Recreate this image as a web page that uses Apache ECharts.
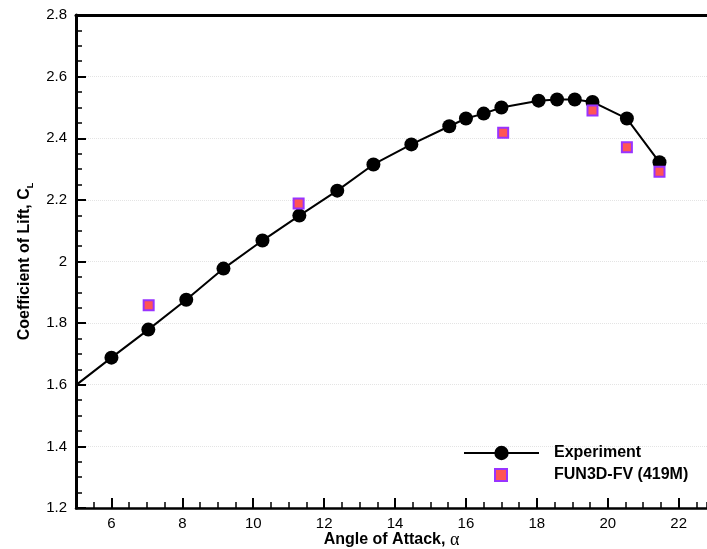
<!DOCTYPE html>
<html>
<head>
    <meta charset="utf-8">
    <title>Lift coefficient</title>
    <script src="https://cdn.jsdelivr.net/npm/echarts@6/dist/echarts.min.js"></script>
</head>
<body style="margin:0">
    <div id="main" style="width: 707px;height:549px;"></div>
    <script type="text/javascript">
        // angle of attack / CL
        var expAlpha = [4.9, 6.0, 7.04, 8.11, 9.16, 10.26, 11.3, 12.37, 13.39, 14.46, 15.53, 16.0, 16.5, 17.0, 18.05, 18.57, 19.07, 19.57, 20.54, 21.46];
        var expCL    = [1.59, 1.688, 1.779, 1.876, 1.977, 2.068, 2.149, 2.23, 2.315, 2.38, 2.439, 2.464, 2.48, 2.50, 2.522, 2.526, 2.526, 2.518, 2.464, 2.322];
        var cfdAlpha = [7.05, 11.28, 17.05, 19.57, 20.54, 21.46];
        var cfdCL    = [1.858, 2.188, 2.418, 2.49, 2.371, 2.291];
        var xTicks   = [6, 8, 10, 12, 14, 16, 18, 20, 22];

        var font = 'Liberation Sans';

        function pairs(xs, ys) {
            var out = [];
            for (var i = 0; i < xs.length; i++) out.push([xs[i], ys[i]]);
            return out;
        }

        var myChart = echarts.init(document.getElementById('main'));

        var option = {
            animation: false,
            grid: { left: 76, right: 0, top: 15, bottom: 41, outerBoundsMode: 'none' },
            legend: [
                {
                    data: ['Experiment'],
                    left: 463, top: 445, padding: 0,
                    itemWidth: 75, itemHeight: 18,
                    textStyle: { fontFamily: font, fontSize: 16, fontWeight: 'bold', color: '#000', padding: [0, 0, 0, 10] }
                },
                {
                    data: ['FUN3D-FV (419M)'],
                    left: 494, top: 467, padding: 0,
                    itemWidth: 12, itemHeight: 12,
                    textStyle: { fontFamily: font, fontSize: 16, fontWeight: 'bold', color: '#000', padding: [0, 0, 0, 42] }
                }
            ],
            xAxis: [
                {
                    type: 'value', min: 5, max: 22.8,
                    name: '{a|Angle of Attack, }{g|α}',
                    nameLocation: 'middle', nameGap: 23, nameMoveOverlap: false,
                    nameTextStyle: {
                        rich: {
                            a: { fontFamily: font, fontSize: 16, fontWeight: 'bold', color: '#000' },
                            g: { fontFamily: 'Liberation Serif', fontSize: 18, color: '#000' }
                        }
                    },
                    axisLine: { show: true, lineStyle: { color: '#000', width: 2.5 } },
                    axisTick: { inside: true, length: 10, customValues: xTicks, lineStyle: { color: '#000', width: 2 } },
                    axisLabel: { margin: 8, fontFamily: font, fontSize: 15, color: '#000', customValues: xTicks },
                    splitLine: { show: false }
                },
                {
                    type: 'value', min: 5, max: 22.8, interval: 0.5,
                    position: 'bottom',
                    axisLine: { show: false },
                    axisTick: { inside: true, length: 6, lineStyle: { color: '#000', width: 1.5 } },
                    axisLabel: { show: false },
                    splitLine: { show: false }
                },
                {
                    type: 'value', min: 5, max: 22.8,
                    position: 'top',
                    axisLine: { show: true, lineStyle: { color: '#000', width: 3 } },
                    axisTick: { show: false },
                    axisLabel: { show: false },
                    splitLine: { show: false }
                }
            ],
            yAxis: {
                type: 'value', min: 1.2, max: 2.8, interval: 0.2,
                name: '{a|Coefficient of Lift, C}{s|L}',
                nameLocation: 'middle', nameGap: 41,
                nameTextStyle: {
                    rich: {
                        a: { fontFamily: font, fontSize: 16, fontWeight: 'bold', color: '#000', lineHeight: 20 },
                        s: { fontFamily: font, fontSize: 9, fontWeight: 'bold', color: '#000', lineHeight: 9, verticalAlign: 'bottom' }
                    }
                },
                axisLine: { show: true, lineStyle: { color: '#000', width: 3 } },
                axisTick: { inside: true, length: 10, lineStyle: { color: '#000', width: 2 } },
                minorTick: { show: true, splitNumber: 4, length: 6, lineStyle: { color: '#000', width: 1.5 } },
                axisLabel: { margin: 9, fontFamily: font, fontSize: 15, color: '#000' },
                splitLine: { show: true, lineStyle: { color: '#e4e4e4', type: 'dotted', width: 1 } }
            },
            series: [
                {
                    name: 'Experiment',
                    type: 'line',
                    data: pairs(expAlpha, expCL),
                    clip: true,
                    symbol: 'circle', symbolSize: 14,
                    lineStyle: { color: '#000', width: 2 },
                    itemStyle: { color: '#000' },
                    z: 2
                },
                {
                    name: 'FUN3D-FV (419M)',
                    type: 'scatter',
                    data: pairs(cfdAlpha, cfdCL),
                    symbol: 'rect', symbolSize: 10,
                    itemStyle: { color: '#ff5555', borderColor: '#9933ff', borderWidth: 2, opacity: 1 },
                    z: 3
                }
            ]
        };

        myChart.setOption(option);
    </script>
</body>
</html>
